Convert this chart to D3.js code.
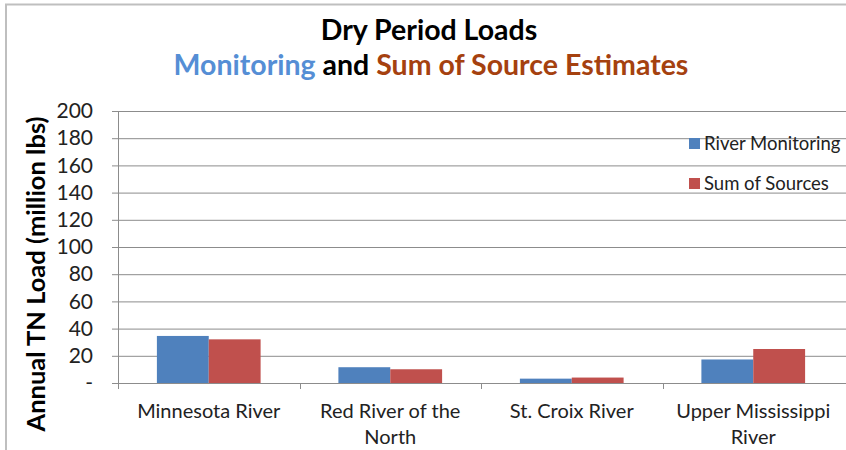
<!DOCTYPE html>
<html>
<head>
<meta charset="utf-8">
<script src="https://cdn.jsdelivr.net/npm/d3@7"></script>
<style>
  body { margin: 0; background: #fff; }
  text { font-family: Lato, "Open Sans", sans-serif; }
</style>
</head>
<body>
<div id="chart"></div>
<script>
const categories = [
    ["Minnesota River"],
    ["Red River of the", "North"],
    ["St. Croix River"],
    ["Upper Mississippi", "River"]
];
const riverMonitoring = [34.6, 11.6, 3.2, 17.3];
const sumOfSources = [32.1, 10.1, 4.0, 25.0];
const seriesNames = ["River Monitoring", "Sum of Sources"];
const yTicks = [0, 20, 40, 60, 80, 100, 120, 140, 160, 180, 200];

const W = 846, H = 450;
const margin = { top: 111, right: 2, bottom: 67, left: 118 };
const width = W - margin.left - margin.right,
      height = H - margin.top - margin.bottom;

const svg = d3.select('#chart')
    .append('svg')
    .attr('width', W)
    .attr('height', H);

// outer border
svg.append('rect')
    .attr('x', 6).attr('y', 4.5)
    .attr('width', W + 10).attr('height', H)
    .attr('fill', 'none')
    .attr('stroke', '#bfbfbf')
    .attr('stroke-width', 2);

const g = svg.append('g')
    .attr('transform', `translate(${margin.left},${margin.top})`);

const x = d3.scaleBand()
    .domain(d3.range(categories.length))
    .range([0, width]);

const y = d3.scaleLinear()
    .domain([0, 200])
    .range([height, 0]);

// gridlines
g.append('g')
    .selectAll('line')
    .data(yTicks.slice(1))
    .join('line')
    .attr('x1', 0).attr('x2', width + margin.right)
    .attr('y1', d => y(d) + 0.5).attr('y2', d => y(d) + 0.5)
    .attr('stroke', '#8c8c8c')
    .attr('stroke-width', 1);

// bars
const inner = d3.scaleBand()
    .domain([0, 1])
    .range([0, x.bandwidth()])
    .paddingOuter(0.75)
    .paddingInner(0);

const series = [riverMonitoring, sumOfSources];
const colors = ['#4f81bd', '#c0504d'];

series.forEach((vals, si) => {
    g.append('g')
        .selectAll('rect')
        .data(vals)
        .join('rect')
        .attr('x', (d, i) => x(i) + inner(si))
        .attr('width', inner.bandwidth())
        .attr('y', d => y(d))
        .attr('height', d => y(0) - y(d))
        .attr('fill', colors[si]);
});

// y axis
const yAxis = d3.axisLeft(y)
    .tickValues(yTicks)
    .tickSize(6)
    .tickPadding(19)
    .tickFormat(d => d === 0 ? '-' : d);

const ya = g.append('g').call(yAxis);
ya.select('.domain').attr('stroke', '#8c8c8c');
ya.selectAll('.tick line').attr('stroke', '#8c8c8c');
ya.selectAll('.tick text')
    .attr('font-size', 21)
    .attr('fill', '#222');

// x axis
const xa = g.append('g').attr('transform', `translate(0,${height})`);
xa.append('line')
    .attr('x1', 0).attr('x2', width + margin.right)
    .attr('y1', 0.5).attr('y2', 0.5)
    .attr('stroke', '#8c8c8c');
xa.selectAll('.tk')
    .data(d3.range(categories.length))
    .join('line')
    .attr('x1', i => Math.round(x(i)) + 0.5)
    .attr('x2', i => Math.round(x(i)) + 0.5)
    .attr('y1', 0).attr('y2', 6)
    .attr('stroke', '#8c8c8c');

const labels = xa.selectAll('.lbl')
    .data(categories)
    .join('text')
    .attr('text-anchor', 'middle')
    .attr('font-size', 20)
    .attr('fill', '#222')
    .attr('transform', (d, i) => `translate(${x(i) + x.bandwidth() / 2},${35})`);
labels.selectAll('tspan')
    .data(d => d)
    .join('tspan')
    .attr('x', 0)
    .attr('dy', (d, i) => i === 0 ? 0 : 26)
    .text(d => d);

// y axis title
svg.append('text')
    .attr('transform', `translate(45,274) rotate(-90)`)
    .attr('text-anchor', 'middle')
    .attr('font-size', 25.5)
    .attr('font-weight', 'bold')
    .attr('fill', '#000')
    .text('Annual TN Load (million lbs)');

// titles
svg.append('text')
    .attr('x', 429).attr('y', 40)
    .attr('text-anchor', 'middle')
    .attr('font-size', 28.5)
    .attr('font-weight', 'bold')
    .attr('fill', '#000')
    .text('Dry Period Loads');

const sub = svg.append('text')
    .attr('x', 431).attr('y', 75)
    .attr('text-anchor', 'middle')
    .attr('font-size', 28.5)
    .attr('font-weight', 'bold');
sub.append('tspan').attr('fill', '#558ed5').text('Monitoring');
sub.append('tspan').attr('fill', '#000').text(' and ');
sub.append('tspan').attr('fill', '#a5410f').text('Sum of Source Estimates');

// legend
const legend = svg.append('g')
    .attr('transform', 'translate(689,138)');
const li = legend.selectAll('g')
    .data(seriesNames)
    .join('g')
    .attr('transform', (d, i) => `translate(0,${i * 40})`);
li.append('rect')
    .attr('width', 11).attr('height', 11)
    .attr('fill', (d, i) => colors[i]);
li.append('text')
    .attr('x', 15).attr('y', 12)
    .attr('font-size', 18.5)
    .attr('fill', '#222')
    .text(d => d);
</script>
</body>
</html>
